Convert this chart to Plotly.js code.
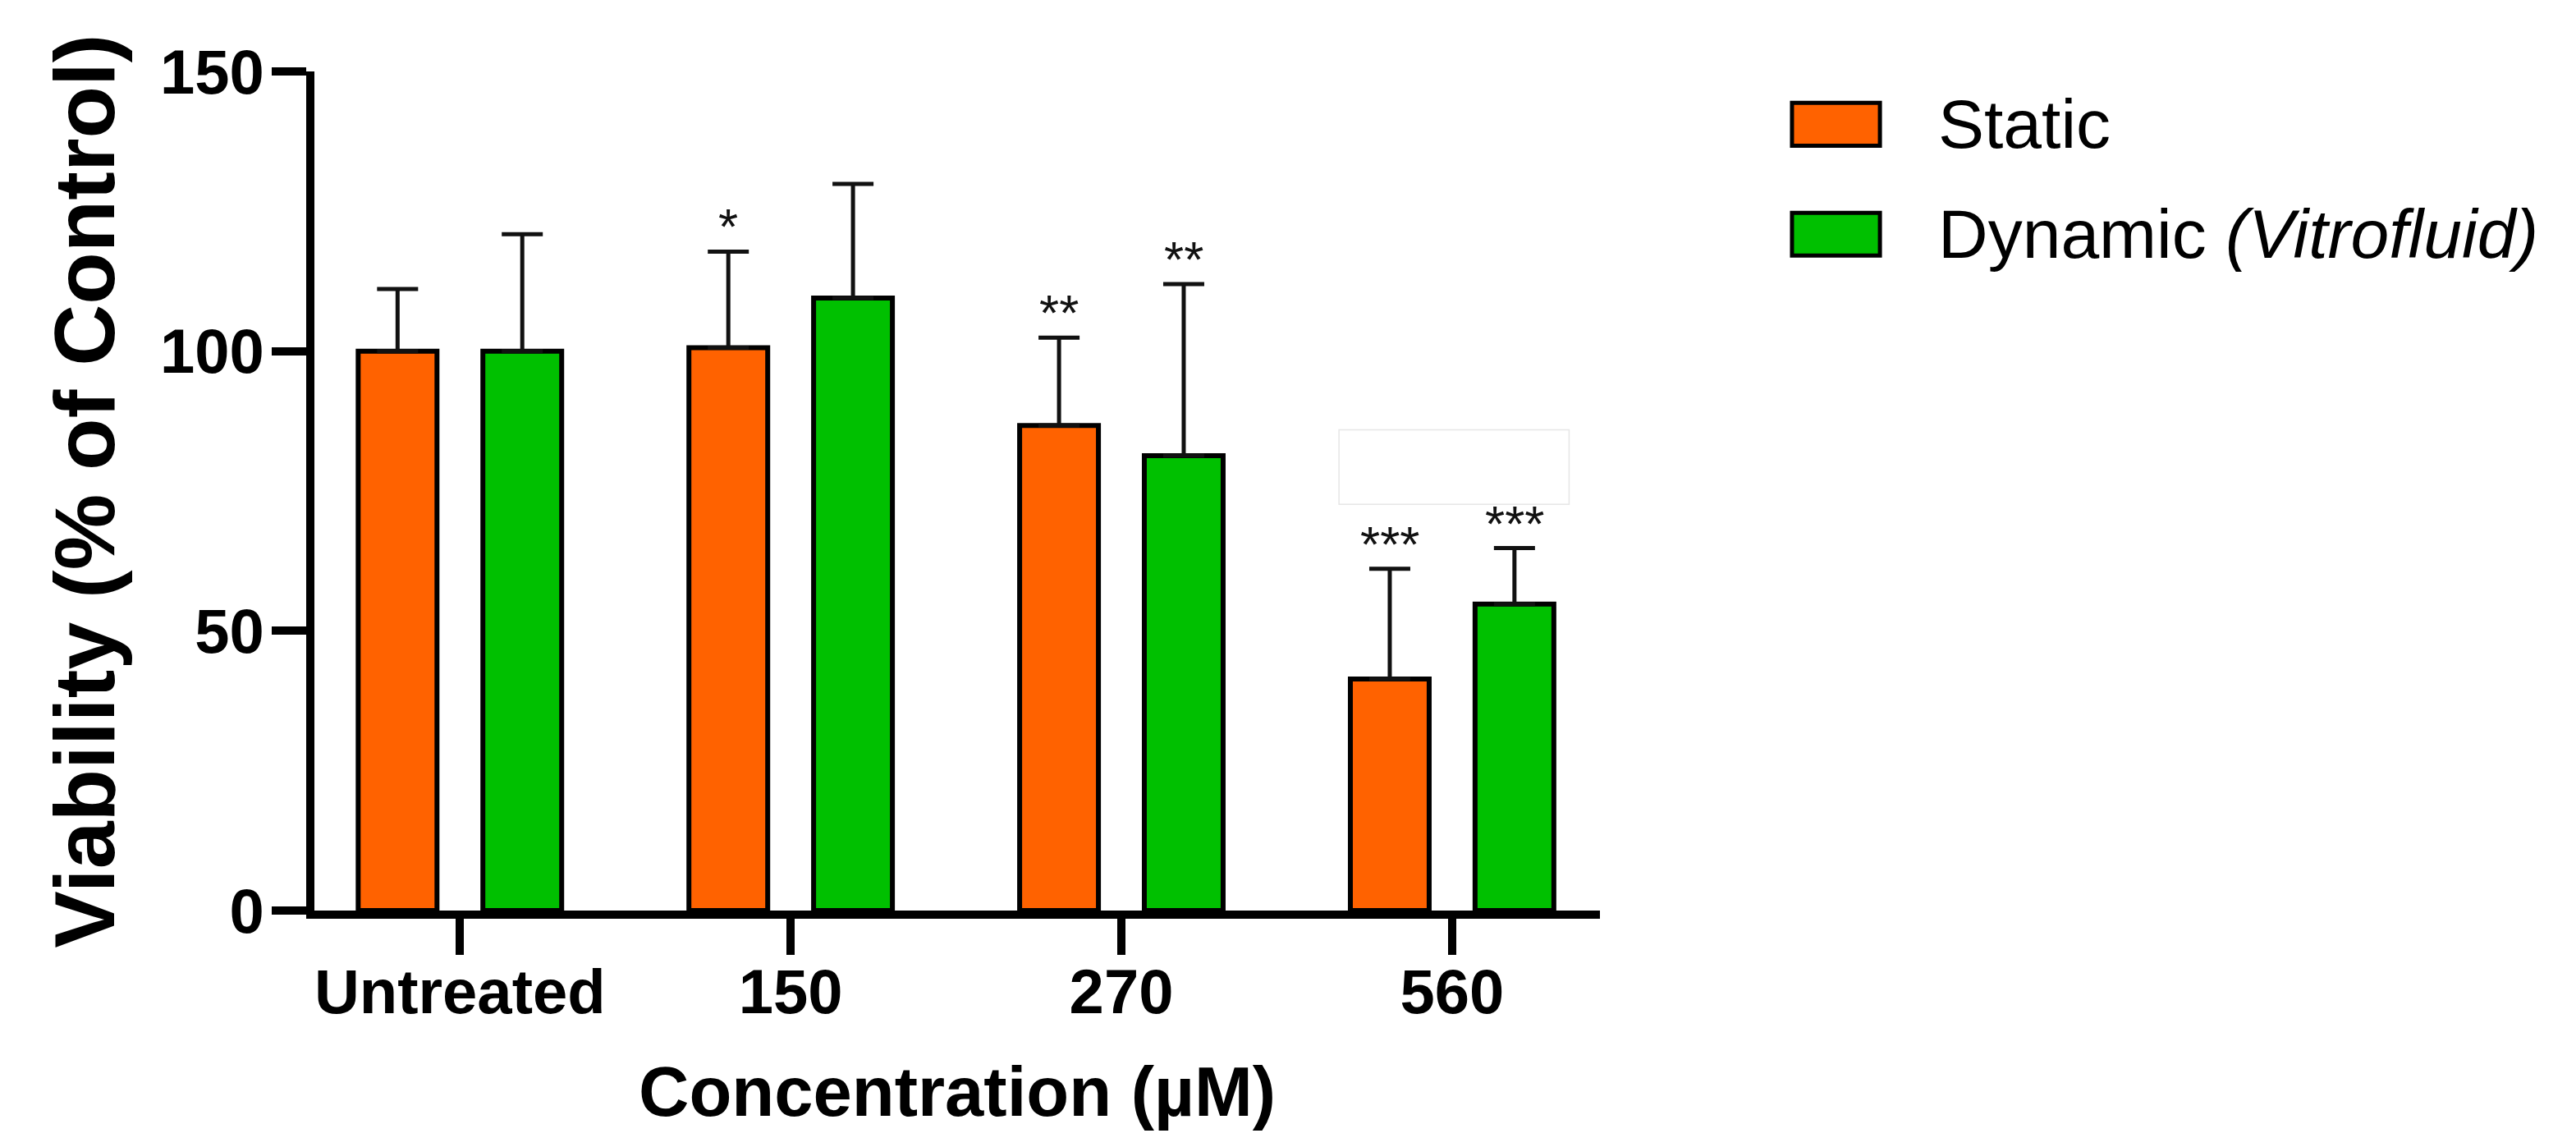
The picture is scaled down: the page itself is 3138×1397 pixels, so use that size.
<!DOCTYPE html>
<html>
<head>
<meta charset="utf-8">
<script src="https://cdn.plot.ly/plotly-3.0.1.min.js"></script>
<style>
  html, body { margin: 0; padding: 0; background: #fff; }
  #chart { width: 3138px; height: 1397px; }
</style>
</head>
<body>
<div id="chart"></div>
<script>
var categories = ['Untreated', '150', '270', '560'];

var seriesNames = ['Static', 'Dynamic <i>(Vitrofluid)</i>'];
var staticMean = [100, 100.6, 86.7, 41.4];
var staticSD = [11.1, 17.2, 15.7, 19.7];
var dynamicMean = [100, 109.5, 81.3, 54.8];
var dynamicSD = [20.9, 20.4, 30.7, 10.0];

var staticStars = ['', '*', '**', '***'];
var dynamicStars = ['', '', '**', '***'];

var colors = ['#ff6200', '#00c000'];
var means = [staticMean, dynamicMean];
var sds = [staticSD, dynamicSD];
var stars = [staticStars, dynamicStars];

var fontFam = '"Liberation Sans", Arial, sans-serif';

var data = [];
for (var i = 0; i < means.length; i++) {
  data.push({
    type: 'bar',
    name: seriesNames[i],
    x: categories,
    y: means[i],
    marker: { color: colors[i], line: { color: '#000', width: 6 } },
    error_y: {
      type: 'data',
      symmetric: false,
      array: sds[i],
      arrayminus: sds[i].map(function () { return 0; }),
      color: '#111',
      thickness: 5,
      width: 25
    },
    showlegend: false
  });
}

// bar centre offset within a group, in category units
var barOffset = 0.189;

var annotations = [];
for (var i = 0; i < means.length; i++) {
  for (var j = 0; j < categories.length; j++) {
    if (!stars[i][j]) continue;
    annotations.push({
      xref: 'x', yref: 'y',
      x: j + (i === 0 ? -barOffset : barOffset),
      y: means[i][j] + sds[i][j],
      xanchor: 'center', yanchor: 'bottom',
      yshift: -6,
      text: stars[i][j],
      showarrow: false,
      font: { family: fontFam, size: 62, color: '#111' }
    });
  }
}

// legend drawn by hand so the swatches match the original size
var legendY = [0.937, 0.806];
var shapes = [];
for (var i = 0; i < seriesNames.length; i++) {
  shapes.push({
    type: 'rect', xref: 'paper', yref: 'paper',
    x0: 1.1494, x1: 1.2178,
    y0: legendY[i] - 0.0255, y1: legendY[i] + 0.0255,
    fillcolor: colors[i],
    line: { color: '#000', width: 5 }
  });
  annotations.push({
    xref: 'paper', yref: 'paper',
    x: 1.2618, y: legendY[i],
    xanchor: 'left', yanchor: 'middle',
    text: seriesNames[i],
    showarrow: false,
    font: { family: fontFam, size: 84, color: '#000' }
  });
}

// faint empty box left in the original figure
shapes.push({
  type: 'rect', xref: 'paper', yref: 'paper',
  x0: 0.797, x1: 0.976, y0: 0.484, y1: 0.573,
  fillcolor: 'rgba(0,0,0,0)',
  line: { color: '#e6e6e6', width: 1.5 }
});

annotations.push({
  xref: 'paper', yref: 'paper',
  x: -0.179, y: 0.5,
  xanchor: 'center', yanchor: 'middle',
  textangle: -90,
  text: 'Viability (% of Control)',
  showarrow: false,
  font: { family: fontFam, size: 104, color: '#000', weight: 'bold' }
});

annotations.push({
  xref: 'paper', yref: 'paper',
  x: 0.5, y: -0.216,
  xanchor: 'center', yanchor: 'middle',
  text: 'Concentration (µM)',
  showarrow: false,
  font: { family: fontFam, size: 85, color: '#000', weight: 'bold' }
});

var layout = {
  width: 3138,
  height: 1397,
  autosize: false,
  margin: { l: 383, r: 1189, t: 87, b: 288, autoexpand: false },
  paper_bgcolor: '#fff',
  plot_bgcolor: '#fff',
  barmode: 'group',
  bargap: 0.246,
  bargroupgap: 0.368,
  showlegend: false,
  xaxis: {
    type: 'category',
    range: [-0.44, 3.447],
    showline: true,
    linecolor: '#000',
    linewidth: 10,
    showgrid: false,
    zeroline: false,
    ticks: 'outside',
    ticklen: 44,
    tickwidth: 10,
    tickcolor: '#000',
    ticklabelstandoff: -20,
    tickfont: { family: fontFam, size: 76, color: '#000', weight: 'bold' }
  },
  yaxis: {
    range: [0, 150],
    dtick: 50,
    showline: true,
    linecolor: '#000',
    linewidth: 10,
    showgrid: false,
    zeroline: false,
    ticks: 'outside',
    ticklen: 42,
    tickwidth: 10,
    tickcolor: '#000',
    ticklabelstandoff: -6,
    tickfont: { family: fontFam, size: 76, color: '#000', weight: 'bold' }
  },
  annotations: annotations,
  shapes: shapes
};

Plotly.newPlot('chart', data, layout, { displayModeBar: false, staticPlot: true });
</script>
</body>
</html>
